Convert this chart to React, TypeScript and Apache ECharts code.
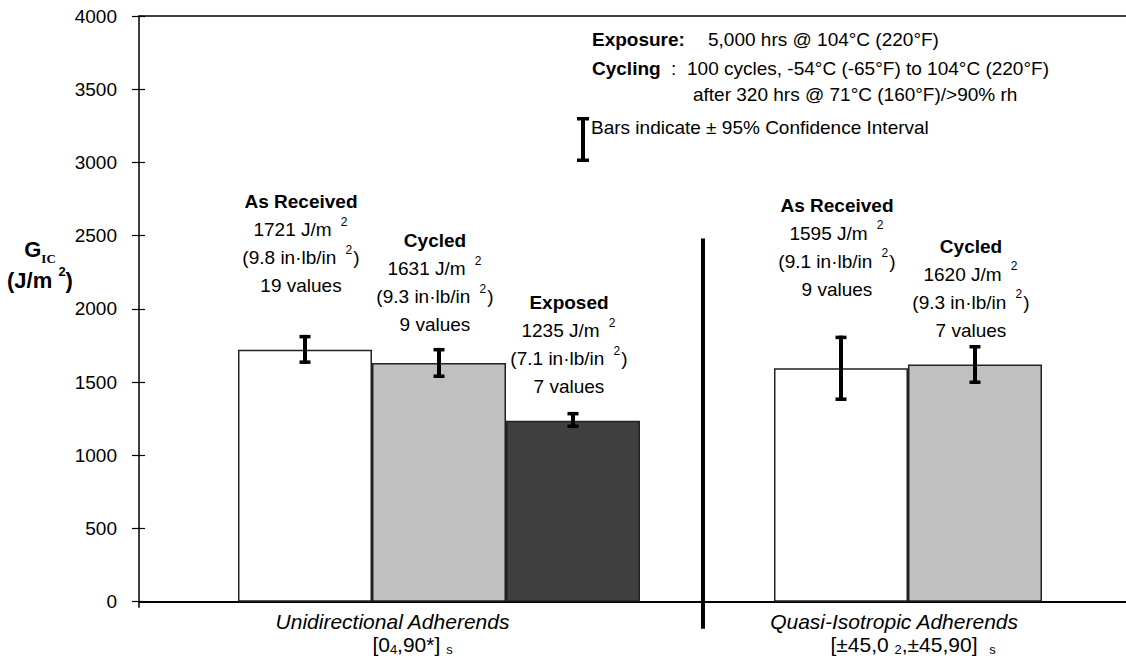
import { useEffect, useRef } from "react";
import * as echarts from "echarts";

// Fracture toughness (G_IC) per adherend layup and conditioning
const conditions = ["As Received", "Cycled", "Exposed", "As Received", "Cycled"];
const barSlots = [0, 1, 2, 4, 5];
const gicJm2 = [1721, 1631, 1235, 1595, 1620];
const gicInLb = ["9.8", "9.3", "7.1", "9.1", "9.3"];
const valueCounts = [19, 9, 7, 9, 7];
const ciLow = [1624, 1528, 1186, 1371, 1487];
const ciHigh = [1822, 1733, 1296, 1817, 1753];

const groupNames = ["Unidirectional Adherends", "Quasi-Isotropic Adherends"];
const groupLayups = [
  ["[0", "4", ",90*] ", "s"],
  ["[\u00b145,0 ", "2", ",\u00b145,90]  ", "s"],
];
const groupLabelSlots = [0.653, 4.396];
const dividerSlot = 2.97;
const dividerTop = 2480;

const yMin = 0;
const yMax = 4000;
const yStep = 500;

// styling (kept apart from the data)
const barColors = ["#ffffff", "#c0c0c0", "#404040", "#ffffff", "#c0c0c0"];
const labelGaps = [50, 24, 20, 65, 20];
const layupPads = [40, 38];
const X_MIN = -1.2388;
const X_MAX = 6.1269;
const FONT = '"Liberation Sans", Arial, Helvetica, sans-serif';
const SERIF = '"Liberation Serif", "Times New Roman", serif';

export default function App() {
  const ref = useRef<HTMLDivElement>(null);

  useEffect(() => {
    if (!ref.current) return;
    const chart = echarts.init(ref.current, undefined, { renderer: "svg" });

    const barData = gicJm2.map((v, i) => ({
      value: [barSlots[i], v],
      itemStyle: { color: barColors[i] },
      label: { distance: labelGaps[i] },
    }));
    const ciData = gicJm2.map((_, i) => [barSlots[i], ciLow[i], ciHigh[i]]);

    const option: any = {
      animation: false,
      backgroundColor: "#ffffff",
      textStyle: { fontFamily: FONT },
      grid: { left: 139, right: 0, top: 16, bottom: 65.3, containLabel: false },
      xAxis: [
        {
          type: "value",
          position: "bottom",
          min: X_MIN,
          max: X_MAX,
          splitLine: { show: false },
          axisLine: { show: true, onZero: false, lineStyle: { color: "#000", width: 2 } },
          axisTick: {
            show: true,
            customValues: [X_MIN],
            length: 6,
            lineStyle: { color: "#000", width: 1.5 },
          },
          axisLabel: {
            customValues: groupLabelSlots,
            margin: 8,
            color: "#000",
            fontFamily: FONT,
            fontSize: 21,
            align: "center",
            formatter: (val: number) => {
              const g = val < dividerSlot ? 0 : 1;
              const [a, b, c, d] = groupLayups[g];
              return `{n|${groupNames[g]}}\n{pad${g}| }{t|${a}}{sub|${b}}{t|${c}}{sub|${d}}`;
            },
            rich: {
              n: { fontSize: 21, fontStyle: "italic", lineHeight: 23, color: "#000", fontFamily: FONT },
              t: { fontSize: 21, lineHeight: 23, color: "#000", fontFamily: FONT },
              sub: { fontSize: 13, lineHeight: 16, verticalAlign: "bottom", color: "#000", fontFamily: FONT },
              pad0: { width: layupPads[0], fontSize: 21, lineHeight: 23 },
              pad1: { width: layupPads[1], fontSize: 21, lineHeight: 23 },
            },
          },
        },
        {
          type: "value",
          position: "top",
          min: X_MIN,
          max: X_MAX,
          splitLine: { show: false },
          axisLine: { show: true, onZero: false, lineStyle: { color: "#000", width: 1.5 } },
          axisTick: { show: false },
          axisLabel: { show: false },
        },
      ],
      yAxis: [
        {
          type: "value",
          min: yMin,
          max: yMax,
          interval: yStep,
          position: "left",
          splitLine: { show: false },
          axisLine: { show: true, onZero: false, lineStyle: { color: "#000", width: 1.5 } },
          axisTick: { show: true, length: 7, lineStyle: { color: "#000", width: 1.2 } },
          axisLabel: {
            color: "#000",
            fontSize: 19,
            fontFamily: FONT,
            margin: 22,
            formatter: (v: number) => String(v),
          },
        },
        {
          type: "value",
          min: yMin,
          max: yMax,
          interval: yStep,
          position: "left",
          splitLine: { show: false },
          axisLine: { show: false, onZero: false },
          axisTick: { show: true, inside: true, length: 6, lineStyle: { color: "#000", width: 1.2 } },
          axisLabel: { show: false },
        },
      ],
      series: [
        {
          type: "bar",
          xAxisIndex: 0,
          yAxisIndex: 0,
          barWidth: 134,
          data: barData,
          itemStyle: { borderColor: "#222", borderWidth: 1.5 },
          label: {
            show: true,
            position: "top",
            offset: [-4, 0],
            align: "center",
            formatter: (p: any) => {
              const i = p.dataIndex;
              return (
                `{h|${conditions[i]}}\n` +
                `{t|${gicJm2[i]} J/m }{sup|2}\n` +
                `{t|(${gicInLb[i]} in\u00b7lb/in }{sup|2}{t|)}\n` +
                `{t|${valueCounts[i]} values}`
              );
            },
            rich: {
              h: { fontSize: 19, fontWeight: "bold", lineHeight: 28, color: "#000", fontFamily: FONT },
              t: { fontSize: 19, lineHeight: 28, color: "#000", fontFamily: FONT },
              sup: {
                fontSize: 12,
                lineHeight: 12,
                verticalAlign: "top",
                padding: [0, 1, 0, 4],
                color: "#000",
                fontFamily: FONT,
              },
            },
          },
          z: 2,
        },
        {
          type: "custom",
          name: "ci",
          xAxisIndex: 0,
          yAxisIndex: 0,
          data: ciData,
          z: 5,
          renderItem: (_params: any, api: any) => {
            const x = api.value(0);
            const hi = api.coord([x, api.value(2)]);
            const lo = api.coord([x, api.value(1)]);
            const fill = { fill: "#000" };
            return {
              type: "group",
              children: [
                { type: "rect", shape: { x: hi[0] - 2, y: hi[1], width: 4, height: lo[1] - hi[1] }, style: fill },
                { type: "rect", shape: { x: hi[0] - 5.5, y: hi[1], width: 11, height: 3.5 }, style: fill },
                { type: "rect", shape: { x: lo[0] - 5.5, y: lo[1] - 3.5, width: 11, height: 3.5 }, style: fill },
              ],
            };
          },
        },
        {
          type: "custom",
          name: "divider",
          xAxisIndex: 0,
          yAxisIndex: 0,
          clip: false,
          data: [[dividerSlot, dividerTop]],
          z: 6,
          renderItem: (_params: any, api: any) => {
            const top = api.coord([api.value(0), api.value(1)]);
            const base = api.coord([api.value(0), 0]);
            return {
              type: "rect",
              shape: { x: top[0] - 2, y: top[1], width: 4, height: base[1] - top[1] + 27 },
              style: { fill: "#000" },
            };
          },
        },
      ],
      graphic: [
        // y-axis title
        {
          type: "text",
          x: 40,
          y: 234,
          style: {
            text: "{g|G}{s|IC}\n{u|(J/m }{p|2}{u|)}",
            align: "center",
            verticalAlign: "top",
            rich: {
              g: { fontSize: 22, fontWeight: "bold", lineHeight: 31, fontFamily: FONT, fill: "#000" },
              s: { fontSize: 13, fontWeight: "bold", lineHeight: 22, verticalAlign: "bottom", fontFamily: SERIF, fill: "#000" },
              u: { fontSize: 22, fontWeight: "bold", lineHeight: 31, fontFamily: FONT, fill: "#000" },
              p: { fontSize: 13, fontWeight: "bold", lineHeight: 20, verticalAlign: "top", fontFamily: FONT, fill: "#000" },
            },
          },
        },
        // conditioning notes
        {
          type: "text",
          x: 592,
          y: 39,
          style: { text: "Exposure:", font: `bold 19px ${FONT}`, fill: "#000", verticalAlign: "middle" },
        },
        {
          type: "text",
          x: 708,
          y: 39,
          style: { text: "5,000 hrs @ 104\u00b0C (220\u00b0F)", font: `19px ${FONT}`, fill: "#000", verticalAlign: "middle" },
        },
        {
          type: "text",
          x: 592,
          y: 68,
          style: { text: "Cycling", font: `bold 19px ${FONT}`, fill: "#000", verticalAlign: "middle" },
        },
        {
          type: "text",
          x: 671,
          y: 68,
          style: { text: ":", font: `19px ${FONT}`, fill: "#000", verticalAlign: "middle" },
        },
        {
          type: "text",
          x: 687,
          y: 68,
          style: {
            text: "100 cycles, -54\u00b0C (-65\u00b0F) to 104\u00b0C (220\u00b0F)",
            font: `19px ${FONT}`,
            fill: "#000",
            verticalAlign: "middle",
          },
        },
        {
          type: "text",
          x: 693,
          y: 94,
          style: {
            text: "after 320 hrs @ 71\u00b0C (160\u00b0F)/>90% rh",
            font: `19px ${FONT}`,
            fill: "#000",
            verticalAlign: "middle",
          },
        },
        // confidence-interval key
        { type: "rect", shape: { x: 581, y: 117, width: 4, height: 45 }, style: { fill: "#000" } },
        { type: "rect", shape: { x: 577, y: 117, width: 12, height: 3.5 }, style: { fill: "#000" } },
        { type: "rect", shape: { x: 577, y: 158.5, width: 12, height: 3.5 }, style: { fill: "#000" } },
        {
          type: "text",
          x: 591,
          y: 127,
          style: {
            text: "Bars indicate \u00b1 95% Confidence Interval",
            font: `19px ${FONT}`,
            fill: "#000",
            verticalAlign: "middle",
          },
        },
      ],
    };

    chart.setOption(option);
    return () => chart.dispose();
  }, []);

  return (
    <div
      ref={ref}
      style={{ position: "fixed", left: 0, top: 0, width: 1126, height: 667, background: "#fff" }}
    />
  );
}
